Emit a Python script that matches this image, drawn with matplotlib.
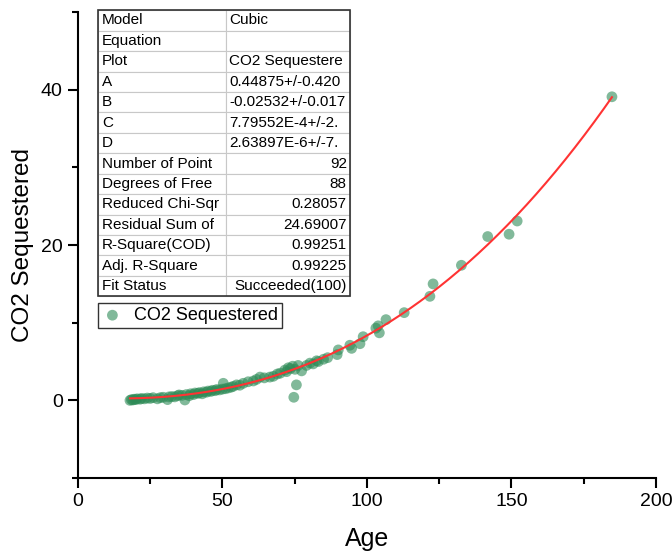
import numpy as np
import matplotlib
matplotlib.use('Agg')
import matplotlib.pyplot as plt
from matplotlib.patches import Rectangle

plt.rcParams['font.family'] = ['Liberation Sans', 'DejaVu Sans']

# Age vs CO2 sequestered
age = [18.0, 18.5, 19.0, 19.5, 20.0, 20.5, 21.5, 22.0, 23.0, 24.0,
       25.0, 26.0, 27.5, 28.5, 29.5, 31.0, 31.5, 32.5, 33.5, 34.5,
       35.0, 36.0, 37.0, 37.5, 38.5, 39.0, 40.0, 40.5, 41.5, 42.0,
       43.0, 43.5, 44.5, 45.0, 46.0, 46.5, 47.5, 48.0, 49.0, 50.0,
       50.3, 51.0, 52.0, 53.0, 53.7, 54.9, 56.0, 57.2, 58.9, 60.7,
       61.8, 63.0, 64.5, 66.4, 67.6, 69.0, 70.0, 71.6, 72.2, 72.8,
       73.5, 74.3, 74.7, 75.1, 75.6, 76.2, 77.4, 79.1, 80.3, 81.4,
       82.6, 83.2, 85.0, 86.4, 89.7, 90.1, 94.1, 94.7, 97.6, 98.7,
       103.1, 103.9, 104.3, 106.6, 112.9, 121.8, 122.9, 132.7, 141.8, 149.2,
       152.0, 184.8]
co2 = [0.0, 0.1, 0.05, 0.15, 0.1, 0.2, 0.15, 0.25, 0.2, 0.3,
       0.25, 0.35, 0.2, 0.35, 0.4, 0.1, 0.45, 0.5, 0.45, 0.6,
       0.7, 0.65, 0.05, 0.75, 0.6, 0.85, 0.75, 0.95, 0.9, 1.0,
       0.85, 1.1, 1.05, 1.2, 1.15, 1.3, 1.25, 1.4, 1.35, 1.45,
       2.2, 1.5, 1.6, 1.7, 1.8, 2.0, 1.95, 2.2, 2.4, 2.5,
       2.7, 3.0, 2.9, 3.0, 3.1, 3.4, 3.5, 3.9, 3.7, 4.2,
       4.1, 4.4, 0.4, 4.0, 2.0, 4.5, 3.8, 4.5, 4.8, 4.7,
       5.1, 5.0, 5.3, 5.5, 5.9, 6.5, 7.1, 6.7, 7.3, 8.2,
       9.3, 9.6, 8.7, 10.4, 11.3, 13.4, 15.0, 17.4, 21.1, 21.4,
       23.1, 39.1]

# cubic fit parameters from the report table
A, B, C, D = 0.44875, -0.02532, 7.79552E-4, 2.63897E-6

table_rows = [
    ['Model', 'Cubic'],
    ['Equation', ''],
    ['Plot', 'CO2 Sequestere'],
    ['A', '0.44875+/-0.420'],
    ['B', '-0.02532+/-0.017'],
    ['C', '7.79552E-4+/-2.'],
    ['D', '2.63897E-6+/-7.'],
    ['Number of Point', '92'],
    ['Degrees of Free', '88'],
    ['Reduced Chi-Sqr', '0.28057'],
    ['Residual Sum of', '24.69007'],
    ['R-Square(COD)', '0.99251'],
    ['Adj. R-Square', '0.99225'],
    ['Fit Status', 'Succeeded(100)'],
]

fig = plt.figure(figsize=(6.72, 5.52), dpi=100)
ax = fig.add_axes([0.116, 0.134, 0.86, 0.844])

ax.scatter(age, co2, s=60, color='#2e8b57', alpha=0.6, edgecolors='none',
           label='CO2 Sequestered', zorder=2)

xfit = np.linspace(min(age), max(age), 300)
yfit = np.polyval([D, C, B, A], xfit)
ax.plot(xfit, yfit, color='#ff3333', lw=1.5, zorder=3)

ax.set_xlim(0, 200)
ax.set_ylim(-10, 50)
ax.set_xticks([0, 50, 100, 150, 200])
ax.set_xticks([25, 75, 125, 175], minor=True)
ax.set_yticks([0, 20, 40])
ax.set_yticks([-10, 10, 30, 50], minor=True)
ax.spines['top'].set_visible(False)
ax.spines['right'].set_visible(False)
for s in ['left', 'bottom']:
    ax.spines[s].set_linewidth(1.5)
ax.tick_params(which='major', length=7, width=1.5, labelsize=14, pad=4)
ax.tick_params(which='minor', length=4, width=1.5)
ax.set_xlabel('Age', fontsize=18, labelpad=12)
ax.set_ylabel('CO2 Sequestered', fontsize=17.5, labelpad=5)

# fit report table
tb = ax.table(cellText=table_rows, colWidths=[0.506, 0.494],
              bbox=[0.0346, 0.39, 0.437, 0.614], zorder=5)
tb.auto_set_font_size(False)
tb.set_fontsize(11)
for (r, c), cell in tb.get_celld().items():
    cell.set_edgecolor('#c8c8c8')
    cell.set_linewidth(0.8)
    cell.set_facecolor('white')
    cell.PAD = 0.03
    if c == 1 and r >= 7:
        cell.get_text().set_ha('right')
    else:
        cell.get_text().set_ha('left')
ax.add_patch(Rectangle((0.0346, 0.39), 0.437, 0.614, transform=ax.transAxes,
                       fill=False, edgecolor='#333333', lw=1.2, zorder=6,
                       clip_on=False))

leg = ax.legend(loc='upper left', bbox_to_anchor=(0.0346, 0.375), borderaxespad=0,
                fancybox=False, edgecolor='black', fontsize=13, handletextpad=0.6,
                borderpad=0.2, handlelength=1.2)
leg.get_frame().set_linewidth(1.0)

plt.savefig('out.png', dpi=100)
